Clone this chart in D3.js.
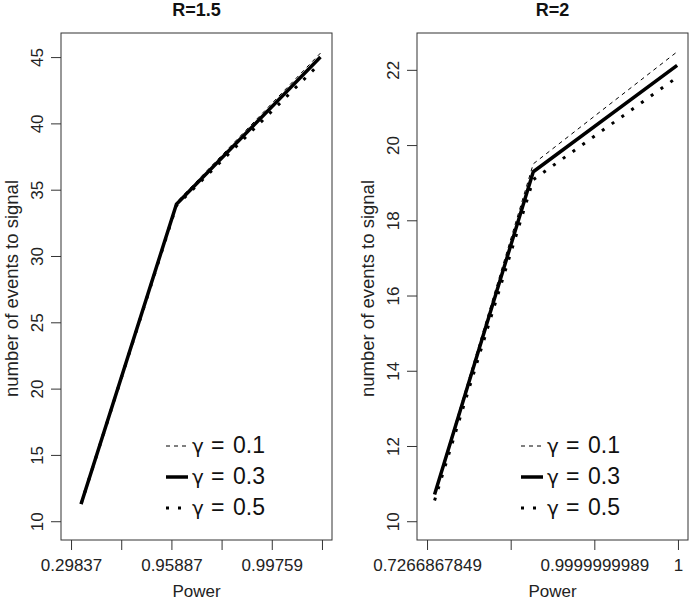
<!DOCTYPE html>
<html>
<head>
<meta charset="utf-8">
<script src="https://cdn.jsdelivr.net/npm/d3@7"></script>
<style>
  html, body { margin: 0; padding: 0; background: #fff; }
  svg { display: block; font-family: "Liberation Sans", Arial, Helvetica, sans-serif; }
</style>
</head>
<body>
<svg id="chart" width="689" height="600"></svg>
<script>
// ---------- data ----------
const panelTitles = ["R=1.5", "R=2"];
const legendLabels = ["0.1", "0.3", "0.5"];          // gamma values
const xTitle = "Power";
const yTitle = "number of events to signal";

// Left panel (R=1.5): x in axis-position units, tick labels are power values
const leftXTicks = [0, 1, 2, 3, 4, 5];
const leftXTickLabels = ["0.29837", "", "0.95887", "", "0.99759", ""];
const leftYTicks = [10, 15, 20, 25, 30, 35, 40, 45];
const leftXLim = [0, 5];
const leftYLim = [10, 45.4];
const leftX = [0.2, 2.1, 4.97];
const leftG01 = [11.3, 34.05, 45.3];
const leftG03 = [11.3, 33.9, 45.0];
const leftG05 = [11.3, 33.8, 44.55];

// Right panel (R=2)
const rightXTicks = [0, 1, 2, 3];
const rightXTickLabels = ["0.7266867849", "", "0.9999999989", "1"];
const rightYTicks = [10, 12, 14, 16, 18, 20, 22];
const rightXLim = [0, 3];
const rightYLim = [10, 22.48];
const rightX = [0.09, 1.27, 2.99];
const rightG01 = [10.75, 19.5, 22.48];
const rightG03 = [10.71, 19.29, 22.12];
const rightG05 = [10.55, 19.08, 21.8];

// ---------- drawing ----------
const svg = d3.select("#chart");
const styles = [
  { dash: "4 4", width: 1 },
  { dash: null, width: 3.5 },
  { dash: "3 9", width: 3 }
];

function expand(lim) {
  const d = (lim[1] - lim[0]) * 0.04;
  return [lim[0] - d, lim[1] + d];
}

function drawPanel(cfg) {
  const { x0, x1, y0, y1 } = cfg;
  const x = d3.scaleLinear().domain(expand(cfg.xLim)).range([x0, x1]);
  const y = d3.scaleLinear().domain(expand(cfg.yLim)).range([y1, y0]);
  const g = svg.append("g");

  // title
  g.append("text")
    .attr("x", (x0 + x1) / 2).attr("y", 16)
    .attr("text-anchor", "middle")
    .attr("font-weight", "bold").attr("font-size", 18)
    .attr("fill", "#111")
    .text(cfg.title);

  // x axis
  const xa = g.append("g").attr("transform", `translate(0,${y1})`)
    .call(d3.axisBottom(x).tickValues(cfg.xTicks)
      .tickFormat((d, i) => cfg.xTickLabels[i])
      .tickSize(10).tickSizeOuter(0).tickPadding(9));
  xa.select(".domain").remove();
  xa.selectAll("line").attr("stroke", "#333");
  xa.selectAll("text").attr("font-size", 17).attr("fill", "#222")
    .attr("font-family", '"Liberation Sans", Arial, sans-serif');

  // y axis
  const ya = g.append("g").attr("transform", `translate(${x0},0)`)
    .call(d3.axisLeft(y).tickValues(cfg.yTicks).tickSize(10).tickSizeOuter(0));
  ya.select(".domain").remove();
  ya.selectAll("line").attr("stroke", "#333");
  ya.selectAll("text")
    .attr("x", 0).attr("y", 0).attr("dy", 0)
    .attr("text-anchor", "middle")
    .attr("transform", "translate(-18,0) rotate(-90)")
    .attr("font-size", 17).attr("fill", "#222")
    .attr("font-family", '"Liberation Sans", Arial, sans-serif');

  // box
  g.append("rect")
    .attr("x", x0).attr("y", y0)
    .attr("width", x1 - x0).attr("height", y1 - y0)
    .attr("fill", "none").attr("stroke", "#333").attr("stroke-width", 1);

  // axis titles
  g.append("text")
    .attr("x", (x0 + x1) / 2).attr("y", 597)
    .attr("text-anchor", "middle").attr("font-size", 17).attr("fill", "#222")
    .text(xTitle);
  g.append("text")
    .attr("transform", `translate(${x0 - 43},${(y0 + y1) / 2 + 2}) rotate(-90)`)
    .attr("text-anchor", "middle").attr("font-size", 18.5).attr("fill", "#222")
    .text(yTitle);

  // lines
  const line = d3.line().x(d => x(d[0])).y(d => y(d[1]));
  cfg.series.forEach((vals, i) => {
    const pts = cfg.xs.map((xv, j) => [xv, vals[j]]);
    g.append("path")
      .attr("d", line(pts))
      .attr("fill", "none").attr("stroke", "#000")
      .attr("stroke-width", styles[i].width)
      .attr("stroke-dasharray", styles[i].dash)
      .attr("stroke-linejoin", "round");
  });

  // legend
  const lg = g.append("g");
  legendLabels.forEach((lab, i) => {
    const base = 453 + i * 31;
    lg.append("line")
      .attr("x1", cfg.legX).attr("x2", cfg.legX + 22)
      .attr("y1", base - 7).attr("y2", base - 7)
      .attr("stroke", "#000")
      .attr("stroke-width", styles[i].width)
      .attr("stroke-dasharray", styles[i].dash);
    const t = lg.append("text").attr("y", base).attr("font-size", 23).attr("fill", "#111");
    t.append("tspan").attr("x", cfg.legX + 26).attr("font-family", '"DejaVu Sans", sans-serif')
      .attr("font-size", 20).text("γ");
    t.append("tspan").attr("x", cfg.legX + 45).text("=");
    t.append("tspan").attr("x", cfg.legX + 67).text(lab);
  });
}

drawPanel({
  title: panelTitles[0], x0: 61, x1: 332, y0: 33, y1: 540,
  xLim: leftXLim, yLim: leftYLim,
  xTicks: leftXTicks, xTickLabels: leftXTickLabels, yTicks: leftYTicks,
  xs: leftX, series: [leftG01, leftG03, leftG05], legX: 166
});
drawPanel({
  title: panelTitles[1], x0: 417, x1: 688, y0: 33, y1: 540,
  xLim: rightXLim, yLim: rightYLim,
  xTicks: rightXTicks, xTickLabels: rightXTickLabels, yTicks: rightYTicks,
  xs: rightX, series: [rightG01, rightG03, rightG05], legX: 521
});
</script>
</body>
</html>
